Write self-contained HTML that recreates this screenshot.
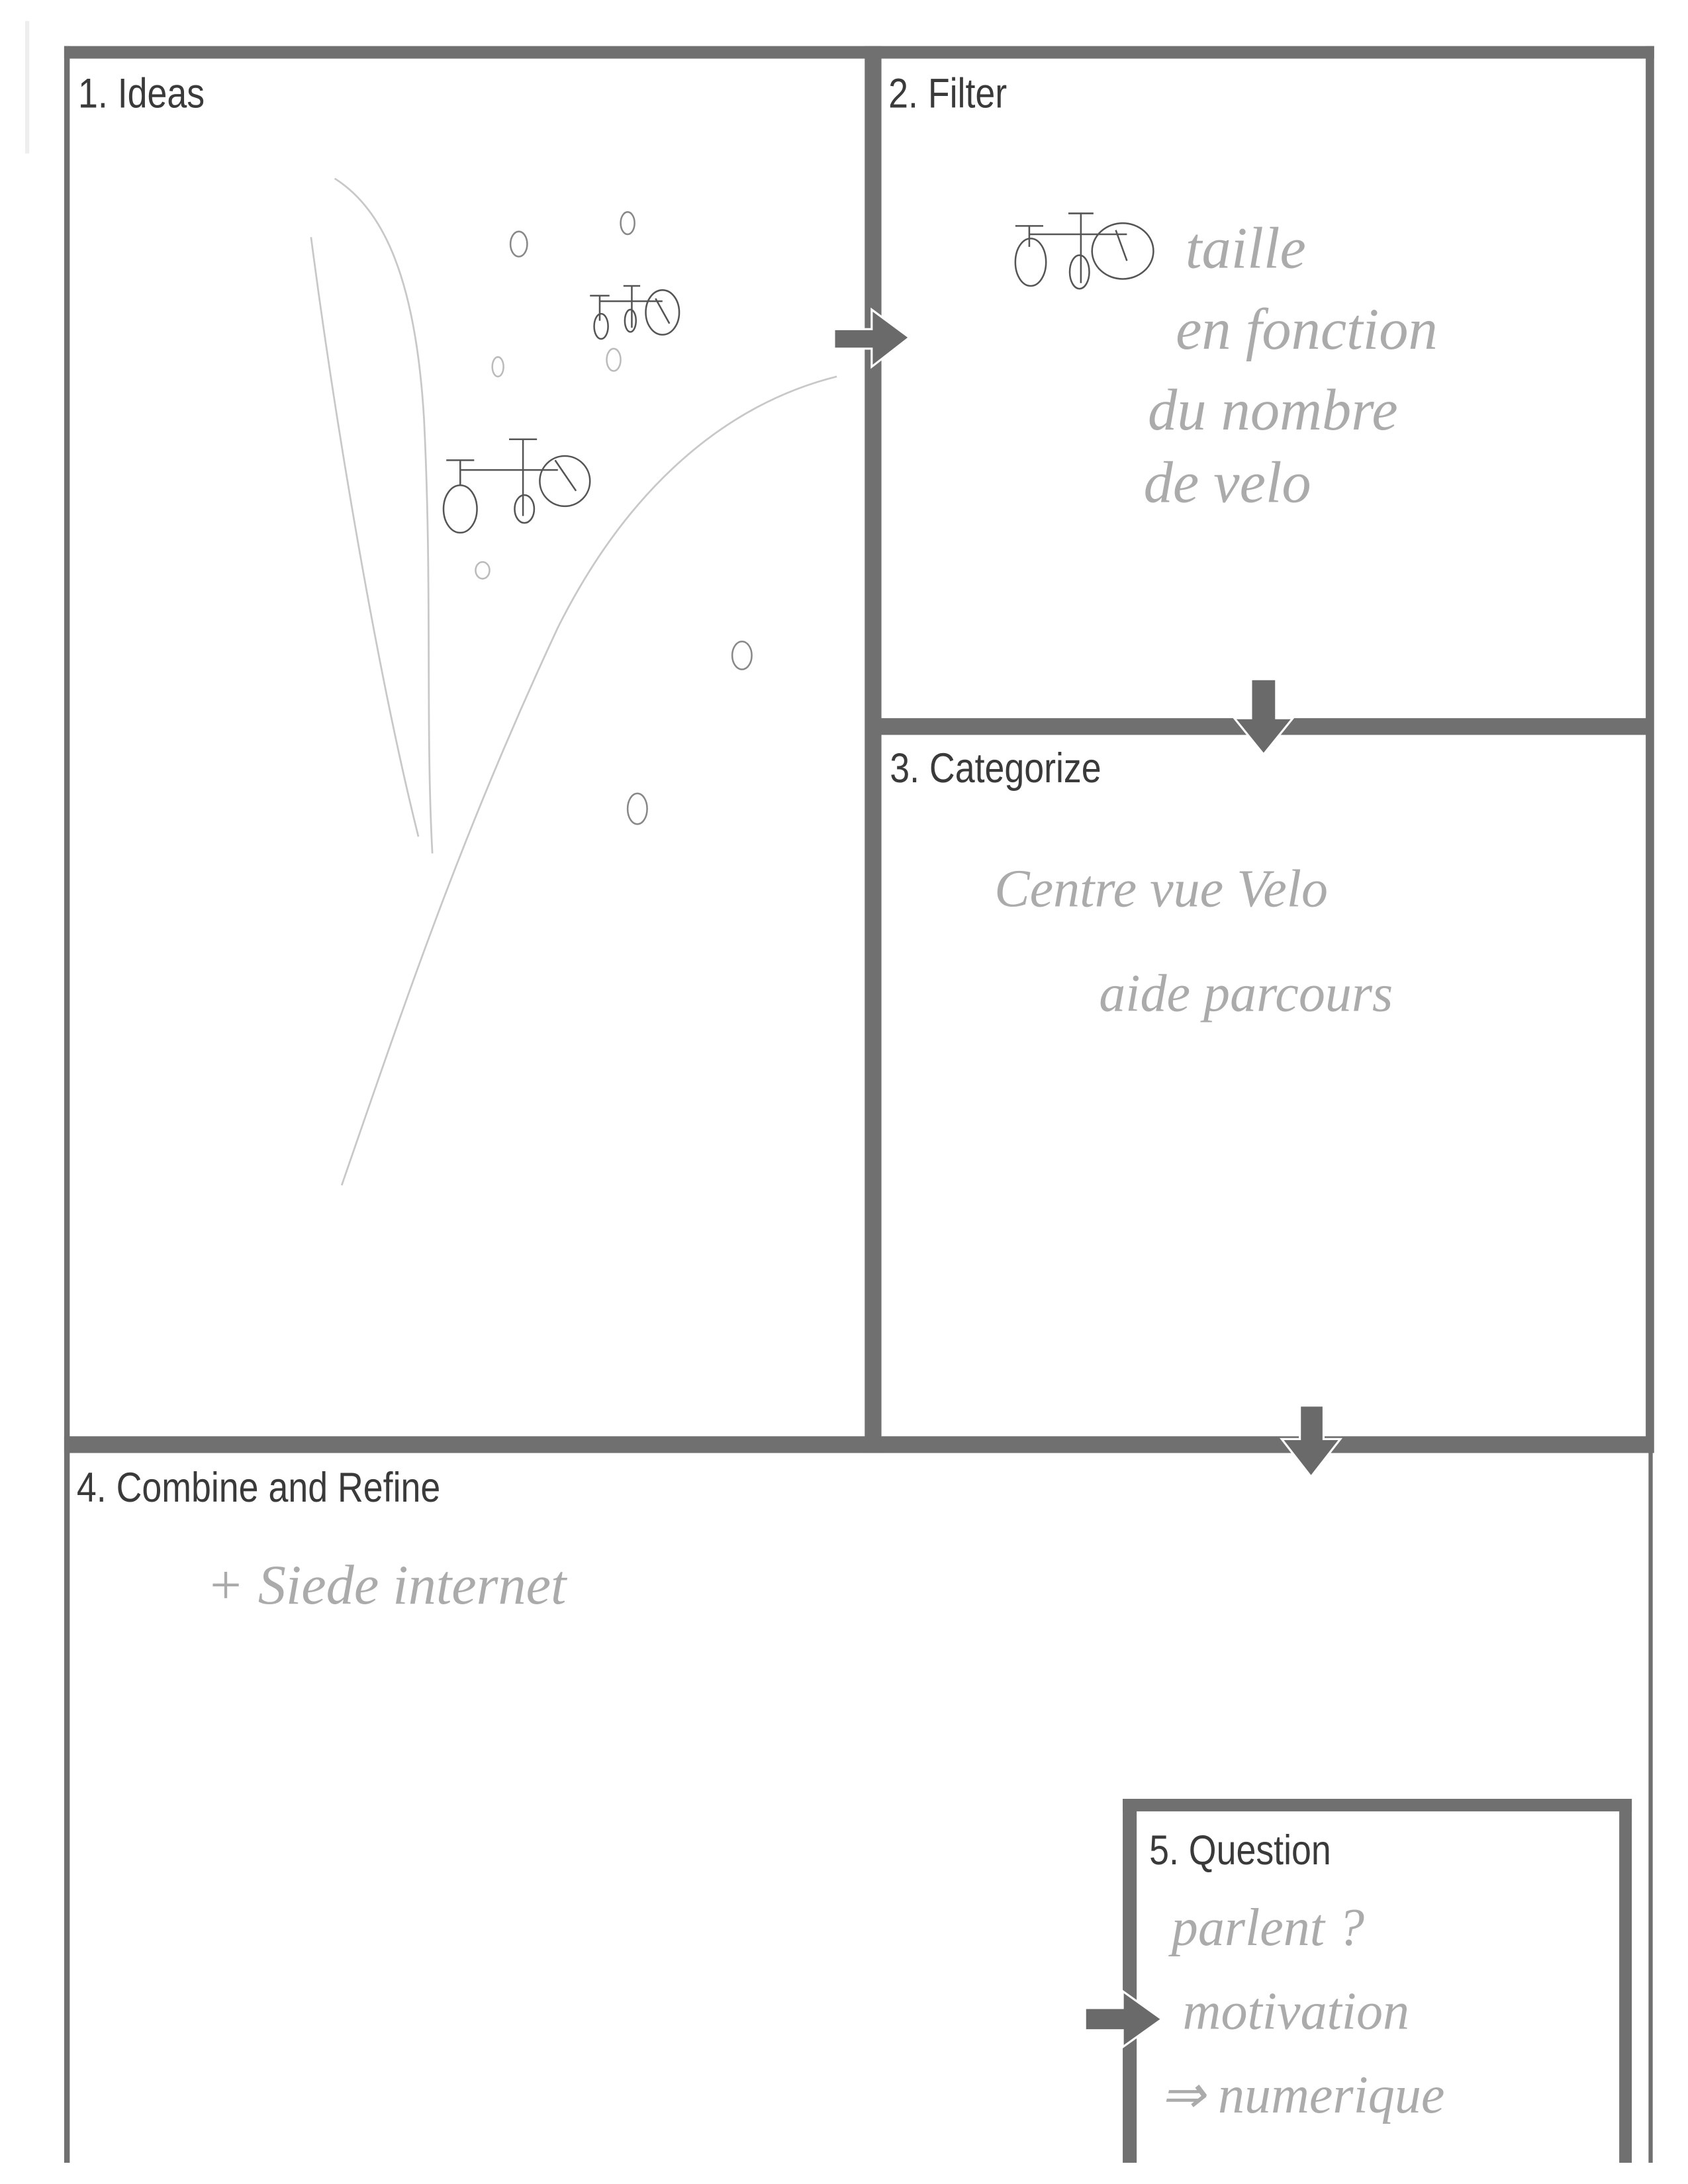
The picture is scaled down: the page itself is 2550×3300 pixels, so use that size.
<!DOCTYPE html>
<html><head><meta charset="utf-8"><style>
html,body{margin:0;padding:0;background:#fff}
svg{display:block}
.lbl{font-family:"Liberation Sans",sans-serif;font-size:30px;fill:#3a3a3a}
.hw{font-family:"Liberation Serif",serif;font-style:italic;fill:#ababab}
</style></head><body>
<svg width="2550" height="3300" viewBox="0 0 1210.3 1566.2" xmlns="http://www.w3.org/2000/svg">
<rect width="1210.3" height="1566.2" fill="#fff"/>
<rect x="18" y="15" width="3" height="95" fill="#eee"/>
<g fill="#707070">
<rect x="46" y="33" width="1140" height="9"/>
<rect x="46" y="33" width="4" height="1518"/>
<rect x="620" y="33" width="12" height="1009"/>
<rect x="1180" y="33" width="6" height="1009"/>
<rect x="1182" y="1030" width="3" height="521"/>
<rect x="625" y="515" width="560" height="12"/>
<rect x="46" y="1030" width="1139" height="12"/>
<rect x="805" y="1290" width="365" height="9"/>
<rect x="805" y="1290" width="10" height="261"/>
<rect x="1161" y="1290" width="9" height="261"/>
</g>
<g fill="#6a6a6a" stroke="#fff" stroke-width="1.5">
<polygon points="598,236 625,236 625,222 652,242 625,263 625,250 598,250"/>
<polygon points="897,487 915,487 915,515 927,515 906,541 885,515 897,515"/>
<polygon points="932,1008 949,1008 949,1032 961,1032 940,1059 919,1032 932,1032"/>
<polygon points="778,1440 805,1440 805,1428 833,1448 805,1468 805,1456 778,1456"/>
</g>
<text class="lbl" x="56" y="77" transform="scale(0.85 1)" style="transform-origin:56px 77px">1. Ideas</text>
<text class="lbl" x="637" y="77" transform="scale(0.85 1)" style="transform-origin:637px 77px">2. Filter</text>
<text class="lbl" x="638" y="561" transform="scale(0.85 1)" style="transform-origin:638px 561px">3. Categorize</text>
<text class="lbl" x="55" y="1077" transform="scale(0.85 1)" style="transform-origin:55px 1077px">4. Combine and Refine</text>
<text class="lbl" x="824" y="1337" transform="scale(0.85 1)" style="transform-origin:824px 1337px">5. Question</text>
<g fill="none" stroke="#c8c8c8" stroke-width="1.3">
<path d="M240,128 C275,150 298,200 304,300 C310,420 305,520 310,612"/>
<path d="M223,170 C240,300 270,480 300,600"/>
<path d="M600,270 C520,290 450,350 400,450 C330,600 290,720 245,850"/>
</g>
<g fill="none" stroke="#888" stroke-width="1.2">
<ellipse cx="372" cy="175" rx="6" ry="9"/>
<ellipse cx="450" cy="160" rx="5" ry="8"/>
<ellipse cx="357" cy="263" rx="4" ry="7" stroke="#bbb"/>
<ellipse cx="440" cy="258" rx="5" ry="8" stroke="#bbb"/>
<ellipse cx="346" cy="409" rx="5" ry="6" stroke="#bbb"/>
<ellipse cx="532" cy="470" rx="7" ry="10"/>
<ellipse cx="457" cy="580" rx="7" ry="11"/>
</g>
<g fill="none" stroke="#555" stroke-width="1.2">
<ellipse cx="431" cy="234" rx="5" ry="9"/><ellipse cx="452" cy="230" rx="4" ry="8"/><ellipse cx="475" cy="224" rx="12" ry="16"/>
<path d="M423,212 h14 M430,212 v18 M430,216 h45 M447,205 h12 M453,205 v30 M470,214 l10,18"/>
<ellipse cx="330" cy="365" rx="12" ry="17"/><ellipse cx="376" cy="365" rx="7" ry="10"/><ellipse cx="405" cy="345" rx="18" ry="18"/>
<path d="M320,330 h20 M330,330 v18 M330,337 h70 M365,315 h20 M375,315 v55 M398,330 l15,22"/>
<ellipse cx="739" cy="188" rx="11" ry="17"/><ellipse cx="774" cy="195" rx="7" ry="12"/><ellipse cx="805" cy="180" rx="22" ry="20"/>
<path d="M728,162 h20 M738,162 v15 M738,168 h70 M766,153 h18 M775,153 v50 M800,165 l8,22"/>
</g>
<g class="hw">
<text x="850" y="192" font-size="42">taille</text>
<text x="843" y="250" font-size="42">en fonction</text>
<text x="823" y="308" font-size="42">du nombre</text>
<text x="820" y="360" font-size="42">de velo</text>
<text x="713" y="650" font-size="38">Centre vue Velo</text>
<text x="788" y="725" font-size="38">aide parcours</text>
<text x="148" y="1150" font-size="40">+ Siede internet</text>
<text x="840" y="1395" font-size="38">parlent ?</text>
<text x="848" y="1455" font-size="38">motivation</text>
<text x="832" y="1515" font-size="38">⇒ numerique</text>
</g>
</svg>
</body></html>
